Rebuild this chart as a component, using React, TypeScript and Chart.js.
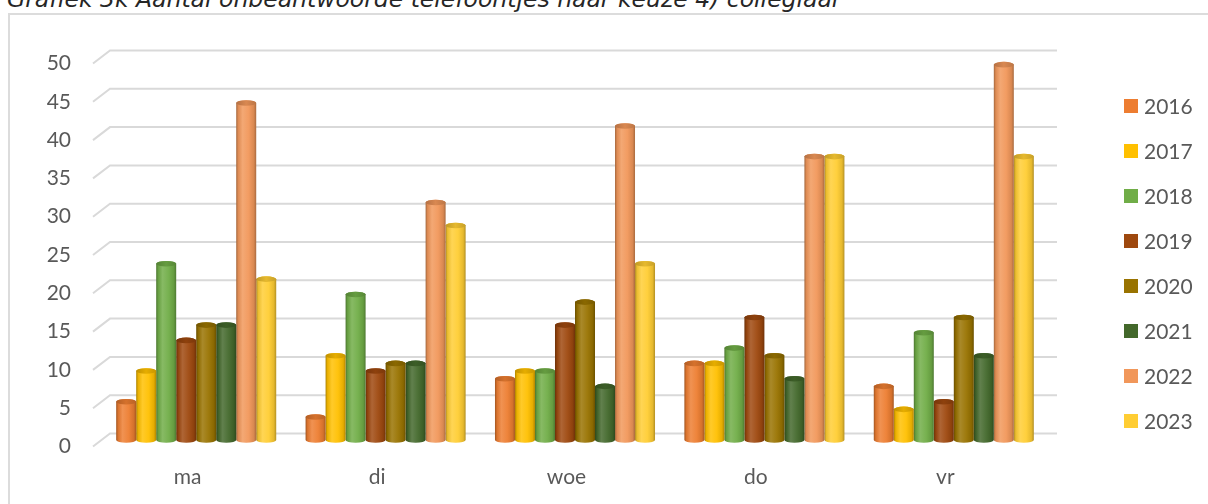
import React, { useEffect, useRef } from "react";
import { Chart, registerables } from "chart.js";

Chart.register(...registerables);

// Weekdays on the category axis
const days = ["ma", "di", "woe", "do", "vr"];

// One series per year
const years = ["2016", "2017", "2018", "2019", "2020", "2021", "2022", "2023"];
const v2016 = [5, 3, 8, 10, 7];
const v2017 = [9, 11, 9, 10, 4];
const v2018 = [23, 19, 9, 12, 14];
const v2019 = [13, 9, 15, 16, 5];
const v2020 = [15, 10, 18, 11, 16];
const v2021 = [15, 10, 7, 8, 11];
const v2022 = [44, 31, 41, 37, 49];
const v2023 = [21, 28, 23, 37, 37];
const seriesValues = [v2016, v2017, v2018, v2019, v2020, v2021, v2022, v2023];

// Office theme colours, one per year
const yearColors = ["#ED7D31", "#FFC000", "#70AD47", "#9E480E", "#997300", "#43682B", "#F1975A", "#FFCD33"];

// Value axis
const yMin = 0;
const yMax = 50;
const yStep = 5;

const TITLE = "Grafiek 3k Aantal onbeantwoorde telefoontjes naar keuze 4) collegiaal";

// 3D depth: the back wall is shifted right/up, bars stand halfway
const DEPTH_X = 17;
const DEPTH_Y = -13;
const GRID_COLOR = "#d9d9d9";
const TEXT_COLOR = "#595959";
const FONT_FAMILY = "Lato, 'Open Sans', sans-serif";

function hexToRgb(hex: string): [number, number, number] {
  const h = hex.replace("#", "");
  return [parseInt(h.slice(0, 2), 16), parseInt(h.slice(2, 4), 16), parseInt(h.slice(4, 6), 16)];
}

function mix(hex: string, target: string, t: number): string {
  const a = hexToRgb(hex);
  const b = hexToRgb(target);
  const c = a.map((v, i) => Math.round(v + (b[i] - v) * t));
  return `rgb(${c[0]},${c[1]},${c[2]})`;
}

function drawCylinder(ctx: CanvasRenderingContext2D, x: number, top: number, base: number, w: number, color: string) {
  const rx = w / 2;
  const ry = 2.8;
  const l = x - rx;
  const r = x + rx;

  const body = ctx.createLinearGradient(l, 0, r, 0);
  body.addColorStop(0, mix(color, "#000000", 0.32));
  body.addColorStop(0.1, mix(color, "#000000", 0.08));
  body.addColorStop(0.32, mix(color, "#ffffff", 0.16));
  body.addColorStop(0.62, mix(color, "#ffffff", 0.05));
  body.addColorStop(0.88, mix(color, "#000000", 0.1));
  body.addColorStop(1, mix(color, "#000000", 0.3));

  ctx.beginPath();
  ctx.moveTo(l, top);
  ctx.lineTo(l, base);
  ctx.ellipse(x, base, rx, ry, 0, Math.PI, 0, true);
  ctx.lineTo(r, top);
  ctx.ellipse(x, top, rx, ry, 0, 0, Math.PI, true);
  ctx.closePath();
  ctx.fillStyle = body;
  ctx.fill();

  const cap = ctx.createLinearGradient(l, 0, r, 0);
  cap.addColorStop(0, mix(color, "#000000", 0.25));
  cap.addColorStop(0.5, mix(color, "#000000", 0.1));
  cap.addColorStop(1, mix(color, "#000000", 0.22));
  ctx.beginPath();
  ctx.ellipse(x, top, rx, ry, 0, 0, Math.PI * 2);
  ctx.fillStyle = cap;
  ctx.fill();
}

// Perspective gridlines: a short diagonal on the side wall, then the back wall line
const depthGrid = {
  id: "depthGrid",
  beforeDatasetsDraw(chart: any) {
    const { ctx, chartArea, scales } = chart;
    const ys = scales.y;
    ctx.save();
    ctx.strokeStyle = GRID_COLOR;
    ctx.lineWidth = 2;
    for (let v = yMin; v <= yMax; v += yStep) {
      const y = ys.getPixelForValue(v);
      ctx.beginPath();
      ctx.moveTo(chartArea.left, y);
      ctx.lineTo(chartArea.left + DEPTH_X, y + DEPTH_Y);
      ctx.lineTo(chartArea.right + DEPTH_X, y + DEPTH_Y);
      ctx.stroke();
    }
    ctx.restore();
  },
};

// Bars drawn as cylinders halfway into the depth
const cylinders = {
  id: "cylinders",
  beforeDatasetDraw(chart: any, args: any) {
    const { ctx } = chart;
    const meta = args.meta;
    const color = chart.data.datasets[args.index].backgroundColor as string;
    ctx.save();
    ctx.translate(DEPTH_X / 2, DEPTH_Y / 2);
    meta.data.forEach((el: any) => {
      const p = el.getProps(["x", "y", "base", "width"], true);
      drawCylinder(ctx, p.x, p.y, p.base, p.width, color);
    });
    ctx.restore();
    return false;
  },
};

// Vertical legend at the right
const sideLegend = {
  id: "sideLegend",
  afterDraw(chart: any) {
    const { ctx } = chart;
    ctx.save();
    ctx.font = `21px ${FONT_FAMILY}`;
    ctx.textBaseline = "middle";
    ctx.textAlign = "left";
    chart.data.datasets.forEach((ds: any, i: number) => {
      const cy = 106 + i * 45;
      ctx.fillStyle = ds.backgroundColor;
      ctx.fillRect(1124, cy - 7, 14, 14);
      ctx.fillStyle = TEXT_COLOR;
      ctx.fillText(ds.label, 1144, cy + 1);
    });
    ctx.restore();
  },
};

export default function App() {
  const canvasRef = useRef<HTMLCanvasElement | null>(null);

  useEffect(() => {
    const canvas = canvasRef.current;
    if (!canvas) return;
    const chart = new Chart(canvas, {
      type: "bar",
      data: {
        labels: days,
        datasets: years.map((year, i) => ({
          label: year,
          data: seriesValues[i],
          backgroundColor: yearColors[i],
          borderWidth: 0,
        })),
      },
      options: {
        responsive: false,
        animation: false,
        devicePixelRatio: 1,
        layout: { padding: { left: 0, right: 168, top: 63.5, bottom: 0 } },
        datasets: { bar: { categoryPercentage: 0.845, barPercentage: 1 } },
        plugins: {
          legend: { display: false },
          tooltip: { enabled: false },
        },
        scales: {
          x: {
            grid: { display: false, drawTicks: false },
            border: { display: false },
            ticks: {
              color: TEXT_COLOR,
              font: { family: FONT_FAMILY, size: 21 },
              padding: 18,
              maxRotation: 0,
            },
            afterFit(scale: any) {
              scale.height = 57.5;
            },
          },
          y: {
            min: yMin,
            max: yMax,
            grid: { display: false, drawTicks: false },
            border: { display: false },
            ticks: {
              stepSize: yStep,
              autoSkip: false,
              color: TEXT_COLOR,
              font: { family: FONT_FAMILY, size: 21 },
              padding: 22,
            },
            afterFit(scale: any) {
              scale.width = 93;
            },
          },
        },
      },
      plugins: [depthGrid, cylinders, sideLegend],
    });
    return () => chart.destroy();
  }, []);

  return (
    <div style={{ position: "fixed", inset: 0, overflow: "hidden", background: "#ffffff" }}>
      <div
        style={{
          position: "absolute",
          left: 7,
          top: -12.5,
          fontFamily: "'DejaVu Sans', Verdana, sans-serif",
          fontStyle: "italic",
          fontSize: 23.5,
          lineHeight: "23px",
          color: "#262626",
          whiteSpace: "nowrap",
        }}
      >
        {TITLE}
      </div>
      <div
        style={{
          position: "absolute",
          left: 8,
          top: 13,
          width: 1240,
          height: 540,
          border: "2px solid #dcdcdc",
          boxSizing: "border-box",
        }}
      />
      <canvas ref={canvasRef} width={1208} height={504} style={{ position: "absolute", left: 0, top: 0 }} />
    </div>
  );
}
